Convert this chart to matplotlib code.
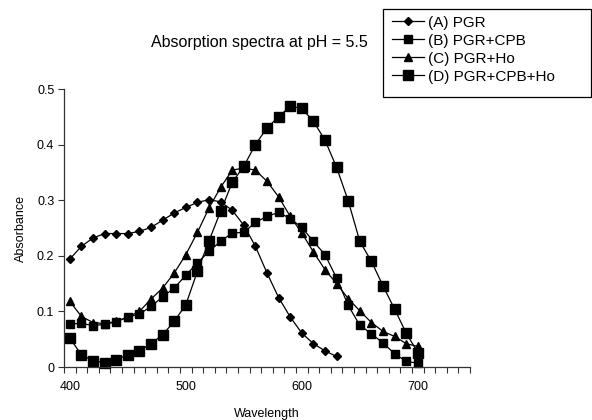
import matplotlib
matplotlib.use("Agg")
import matplotlib.pyplot as plt
from matplotlib.patches import Rectangle
import numpy as np

plt.rcParams['font.family'] = ['Liberation Sans', 'DejaVu Sans']

wl_a = [400, 410, 420, 430, 440, 450, 460, 470, 480, 490, 500, 510,
        520, 530, 540, 550, 560, 570, 580, 590, 600, 610, 620, 630]
abs_a = [0.194, 0.217, 0.232, 0.240, 0.240, 0.240, 0.244, 0.251, 0.264, 0.277, 0.287, 0.296,
         0.301, 0.297, 0.282, 0.255, 0.217, 0.169, 0.125, 0.090, 0.061, 0.042, 0.029, 0.019]

wl = [400, 410, 420, 430, 440, 450, 460, 470, 480, 490, 500, 510, 520, 530, 540, 550,
      560, 570, 580, 590, 600, 610, 620, 630, 640, 650, 660, 670, 680, 690, 700]
abs_b = [0.077, 0.079, 0.074, 0.077, 0.081, 0.090, 0.095, 0.109, 0.126, 0.142, 0.165, 0.187,
         0.208, 0.226, 0.241, 0.242, 0.260, 0.271, 0.278, 0.267, 0.251, 0.226, 0.202, 0.160,
         0.111, 0.075, 0.060, 0.043, 0.024, 0.010, 0.007]
abs_c = [0.118, 0.091, 0.080, 0.078, 0.082, 0.090, 0.100, 0.122, 0.142, 0.169, 0.202, 0.242,
         0.286, 0.323, 0.354, 0.358, 0.354, 0.334, 0.306, 0.271, 0.241, 0.207, 0.175, 0.150,
         0.123, 0.101, 0.080, 0.064, 0.055, 0.042, 0.037]
abs_d = [0.052, 0.022, 0.011, 0.008, 0.013, 0.022, 0.029, 0.042, 0.058, 0.082, 0.112, 0.172,
         0.227, 0.280, 0.332, 0.361, 0.400, 0.430, 0.450, 0.469, 0.465, 0.442, 0.408, 0.359,
         0.299, 0.226, 0.190, 0.146, 0.104, 0.061, 0.026]

labels = ["(A) PGR", "(B) PGR+CPB", "(C) PGR+Ho", "(D) PGR+CPB+Ho"]
x_labels = ["400", "500", "600", "700"]
y_labels = ["0", "0.1", "0.2", "0.3", "0.4", "0.5"]

W, H = 592, 420
fig = plt.figure(figsize=(W/100, H/100), dpi=100)
ax = fig.add_axes([64/W, 1 - 367/H, (470-64)/W, (367-89)/H])

lw = 0.9
ax.plot(wl_a, abs_a, color='black', lw=lw, marker='D', markersize=4.2, label=labels[0], clip_on=False)
ax.plot(wl, abs_b, color='black', lw=lw, marker='s', markersize=5.5, label=labels[1], clip_on=False)
ax.plot(wl, abs_c, color='black', lw=lw, marker='^', markersize=6, label=labels[2], clip_on=False)
ax.plot(wl, abs_d, color='black', lw=lw, marker='s', markersize=7.5, label=labels[3], clip_on=False)

ax.set_xlim(395, 745)
ax.set_ylim(0, 0.5)
ax.set_xticks([400, 500, 600, 700])
ax.set_xticklabels(x_labels)
ax.set_xticks(np.arange(395, 746, 10), minor=True)
ax.set_yticks([0, 0.1, 0.2, 0.3, 0.4, 0.5])
ax.set_yticklabels(y_labels)
ax.tick_params(axis='x', which='major', length=0, pad=10, labelsize=9)
ax.tick_params(axis='x', which='minor', length=4, direction='out', width=0.8, color='#333333')
ax.tick_params(axis='y', length=4, direction='out', width=0.8, color='#333333', labelsize=9, pad=3)

for s in ['top', 'right']:
    ax.spines[s].set_visible(False)
for s in ['left', 'bottom']:
    ax.spines[s].set_color('#333333')
    ax.spines[s].set_linewidth(0.9)

ax.set_xlabel("Wavelength", fontsize=9, labelpad=11)
ax.set_ylabel("Absorbance", fontsize=9, labelpad=7)

fig.text(259/W, 1 - 42/H, "Absorption spectra at pH = 5.5", fontsize=11.5, ha='center', va='center')

leg = fig.legend(loc='upper left', bbox_to_anchor=(387/W, 1 - 11/H), fontsize=11,
                 frameon=False, handlelength=2.1, labelspacing=0.26, borderpad=0.3,
                 handletextpad=0.3, borderaxespad=0)
fig.add_artist(Rectangle((383/W, 1 - 97/H), (591-383)/W, (97-9)/H, transform=fig.transFigure,
                         fill=False, edgecolor='black', linewidth=0.9))

fig.savefig("out.png", dpi=100)
